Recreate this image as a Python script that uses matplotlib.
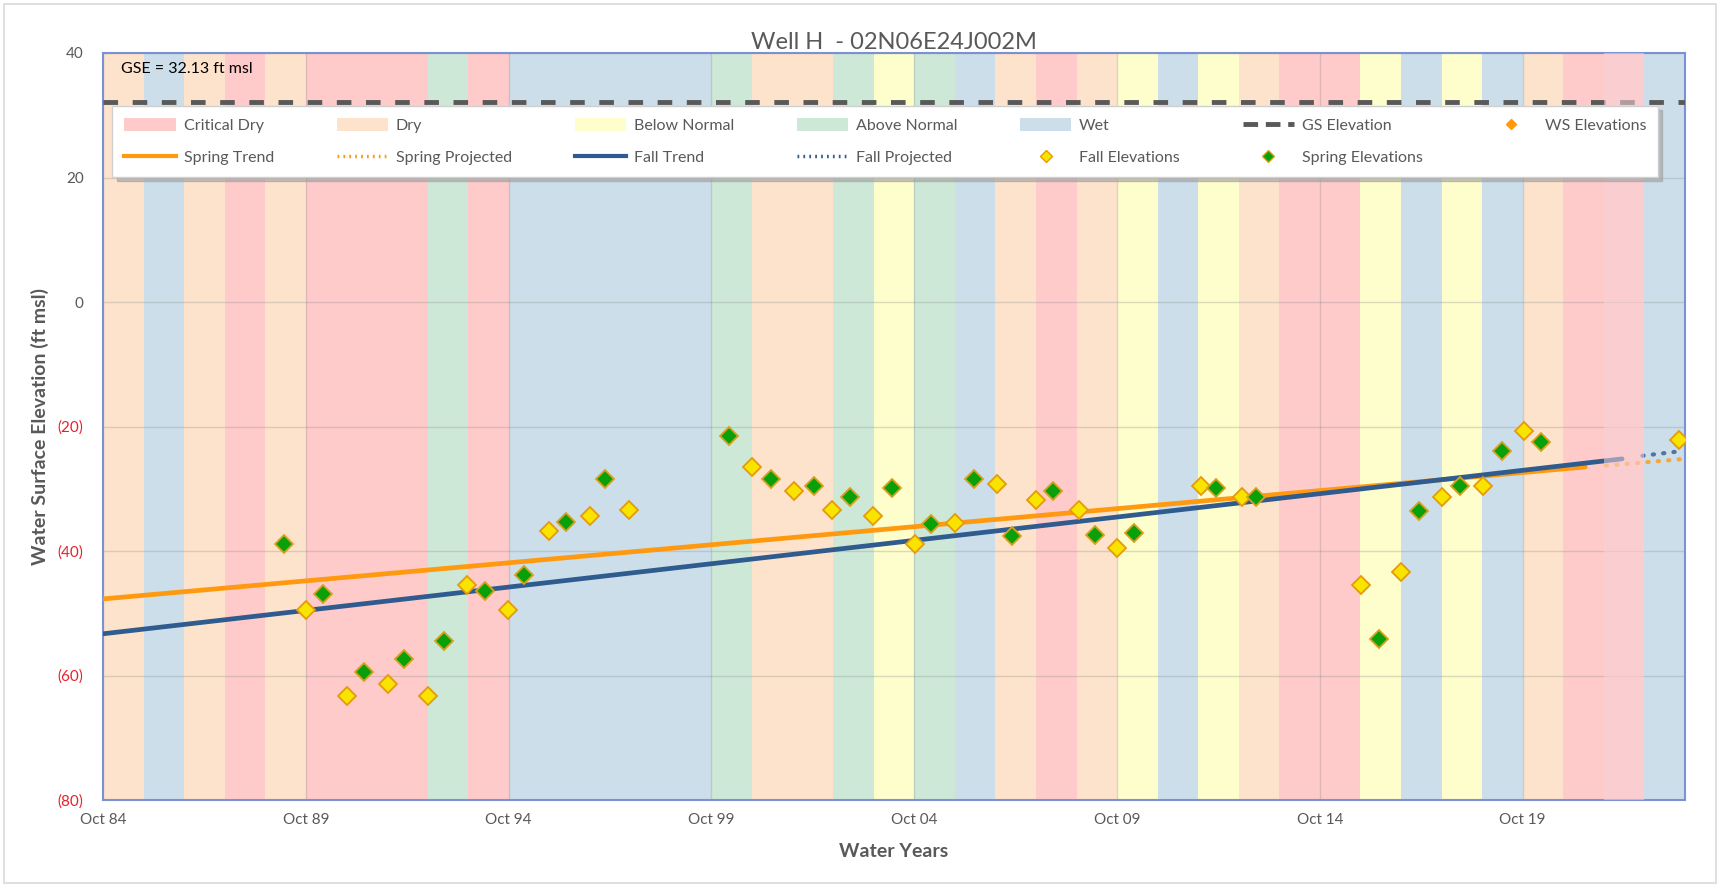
import numpy as np
import matplotlib
import matplotlib.pyplot as plt
from matplotlib.patches import Patch, Rectangle
from matplotlib.lines import Line2D
matplotlib.use('agg')

plt.rcParams['font.family'] = ['Lato', 'DejaVu Sans']

# water year types (Oct of previous year to Sep)
water_years = list(range(1985, 2024))
year_types = ['D', 'W', 'D', 'C', 'D', 'C', 'C', 'C', 'AN', 'C',
              'W', 'W', 'W', 'W', 'W', 'AN', 'D', 'D', 'AN', 'BN',
              'AN', 'W', 'D', 'C', 'D', 'BN', 'W', 'BN', 'D', 'C',
              'C', 'BN', 'W', 'BN', 'W', 'D', 'C', 'C', 'W']
type_names = {'C': 'Critical Dry', 'D': 'Dry', 'BN': 'Below Normal', 'AN': 'Above Normal', 'W': 'Wet'}
type_colors = {'C': '#FECACA', 'D': '#FDE3CC', 'BN': '#FEFDCC', 'AN': '#CDE8D7', 'W': '#CBDEEA'}

# measured elevations (decimal year, ft msl)
spring_dates = [1989.20, 1990.18, 1991.18, 1992.16, 1993.16, 1994.17, 1995.14, 1996.16, 1997.13,
                2000.19, 2001.22, 2002.28, 2003.16, 2004.19, 2005.16, 2006.21, 2007.15, 2008.16,
                2009.21, 2010.17, 2012.18, 2013.17, 2016.21, 2017.20, 2018.21, 2019.23, 2020.19]
spring_elev = [-38.9, -46.9, -59.4, -57.4, -54.4, -46.4, -43.9, -35.4, -28.4,
               -21.5, -28.5, -29.5, -31.4, -29.9, -35.7, -28.4, -37.6, -30.4,
               -37.5, -37.1, -29.9, -31.4, -54.2, -33.5, -29.5, -23.9, -22.5]
fall_dates = [1989.75, 1990.76, 1991.77, 1992.75, 1993.72, 1994.74, 1995.75, 1996.76, 1997.72,
              2000.76, 2001.79, 2002.71, 2003.73, 2004.77, 2005.76, 2006.78, 2007.74, 2008.81,
              2009.74, 2011.82, 2012.84, 2015.76, 2016.75, 2017.76, 2018.76, 2019.78, 2023.61]
fall_elev = [-49.5, -63.3, -61.4, -63.3, -45.4, -49.5, -36.8, -34.4, -33.4,
             -26.5, -30.4, -33.4, -34.4, -38.8, -35.5, -29.2, -31.8, -33.4,
             -39.5, -29.5, -31.4, -45.5, -43.4, -31.4, -29.5, -20.7, -22.2]

# trends and projections
spring_trend_x = [1984.75, 2021.29]
spring_trend_y = [-47.7, -26.5]
fall_trend_x = [1984.75, 2022.20]
fall_trend_y = [-53.3, -25.2]
spring_proj_x = [2021.80, 2023.75]
spring_proj_y = [-26.3, -25.2]
fall_proj_x = [2022.70, 2023.60]
fall_proj_y = [-24.7, -24.0]

gse = 32.13
x_ticks = [1984.75, 1989.75, 1994.75, 1999.75, 2004.75, 2009.75, 2014.75, 2019.75]
x_labels = ['Oct 84', 'Oct 89', 'Oct 94', 'Oct 99', 'Oct 04', 'Oct 09', 'Oct 14', 'Oct 19']
y_ticks = [-80, -60, -40, -20, 0, 20, 40]
y_labels = ['(80)', '(60)', '(40)', '(20)', '0', '20', '40']

gray = '#595959'
orange = '#FF9A10'
blue = '#2F5B8E'

fig = plt.figure(figsize=(17.23, 8.86), dpi=100)
ax = fig.add_axes([103 / 1723, 1 - 800 / 886, 1582 / 1723, 747 / 886])
fig.patches.append(Rectangle((4 / 1723, 3 / 886), 1712 / 1723, 879 / 886, transform=fig.transFigure,
                             facecolor='none', edgecolor='#D9D9D9', lw=1.2))

for wy, t in zip(water_years, year_types):
    ax.axvspan(wy - 0.25, wy + 0.75, color=type_colors[t], lw=0, zorder=0)
# last critical year sits on top of the lines, as in the workbook
ax.axvspan(2021.75, 2022.75, color='#F8D3D8', alpha=0.55, lw=0, zorder=4)

ax.axhline(gse, color=gray, lw=3.5, dashes=(3, 3), zorder=3)
ax.text(1985.2, 37.5, f'GSE = {gse} ft msl', fontsize=11.5, color='black', va='center', zorder=6)

ax.plot(spring_trend_x, spring_trend_y, color=orange, lw=3.4, zorder=3, solid_capstyle='round')
ax.plot(fall_trend_x, fall_trend_y, color=blue, lw=3.4, zorder=3, solid_capstyle='round')
ax.plot(spring_proj_x, spring_proj_y, color=orange, lw=3, ls=(0, (0.3, 2.2)), dash_capstyle='round', zorder=3, alpha=0.8)
ax.plot(fall_proj_x, fall_proj_y, color=blue, lw=3, ls=(0, (0.3, 2.2)), dash_capstyle='round', zorder=3, alpha=0.8)

ax.plot(fall_dates, fall_elev, 'D', ms=9, mfc='#F9E400', mec='#E59A0C', mew=1.3, ls='none', zorder=5)
ax.plot(spring_dates, spring_elev, 'D', ms=9, mfc='#0AA00A', mec='#D9A020', mew=1.3, ls='none', zorder=5)

ax.set_xlim(1984.75, 2023.75)
ax.set_ylim(-80, 40)
ax.set_xticks(x_ticks)
ax.set_xticklabels(x_labels, fontsize=11, color=gray)
ax.set_yticks(y_ticks)
ax.set_yticklabels(y_labels, fontsize=11)
for lbl in ax.get_yticklabels():
    lbl.set_color('#E8202A' if lbl.get_text().startswith('(') else gray)
ax.tick_params(length=0)
ax.tick_params(axis='x', pad=9)
ax.tick_params(axis='y', pad=14)
ax.grid(True, color='#8C8C8C', alpha=0.3, lw=1)
ax.set_axisbelow(False)
for line in ax.get_xgridlines() + ax.get_ygridlines():
    line.set_zorder(1)
for s in ax.spines.values():
    s.set_color('#7B93D6')
    s.set_linewidth(1.5)

ax.set_title('Well H  - 02N06E24J002M', fontsize=17, color=gray, pad=3)
ax.set_ylabel('Water Surface Elevation (ft msl)', fontsize=14, fontweight='bold', color=gray, labelpad=6)
ax.set_xlabel('Water Years', fontsize=14, fontweight='bold', color=gray, labelpad=12)

# legend, filled column by column
h = {k: Patch(facecolor=type_colors[k], edgecolor='none', label=type_names[k]) for k in type_colors}
gs_h = Line2D([], [], color=gray, lw=3.5, dashes=(3, 1.6), label='GS Elevation')
ws_h = Line2D([], [], marker='D', ms=5, color='#FF9A10', ls='none', label='WS Elevations')
st_h = Line2D([], [], color=orange, lw=3, label='Spring Trend')
sp_h = Line2D([], [], color=orange, lw=2.5, ls=(0, (0.5, 1.2)), label='Spring Projected')
ft_h = Line2D([], [], color=blue, lw=3, label='Fall Trend')
fp_h = Line2D([], [], color=blue, lw=2.5, ls=(0, (0.5, 1.2)), label='Fall Projected')
fe_h = Line2D([], [], marker='D', ms=6, mfc='#F9E400', mec='#E59A0C', ls='none', label='Fall Elevations')
se_h = Line2D([], [], marker='D', ms=6, mfc='#0AA00A', mec='#D9A020', ls='none', label='Spring Elevations')
handles = [h['C'], st_h, h['D'], sp_h, h['BN'], ft_h, h['AN'], fp_h, h['W'], fe_h, gs_h, se_h, ws_h]
leg = ax.legend(handles=handles, labels=[x.get_label() for x in handles], ncol=7,
                loc='lower left', bbox_to_anchor=(0.006, 0.834, 0.977, 0.094), mode='expand',
                borderaxespad=0, fontsize=11.5, handlelength=3.2, handletextpad=0.5,
                labelspacing=1.05, borderpad=0.75, handleheight=0.9,
                fancybox=False, framealpha=1, edgecolor='#D0D0D0', labelcolor=gray,
                shadow={'color': '#A0A0A0', 'alpha': 0.6, 'ox': 3, 'oy': -3})
leg.set_zorder(7)

fig.savefig('out.png', dpi=100)
